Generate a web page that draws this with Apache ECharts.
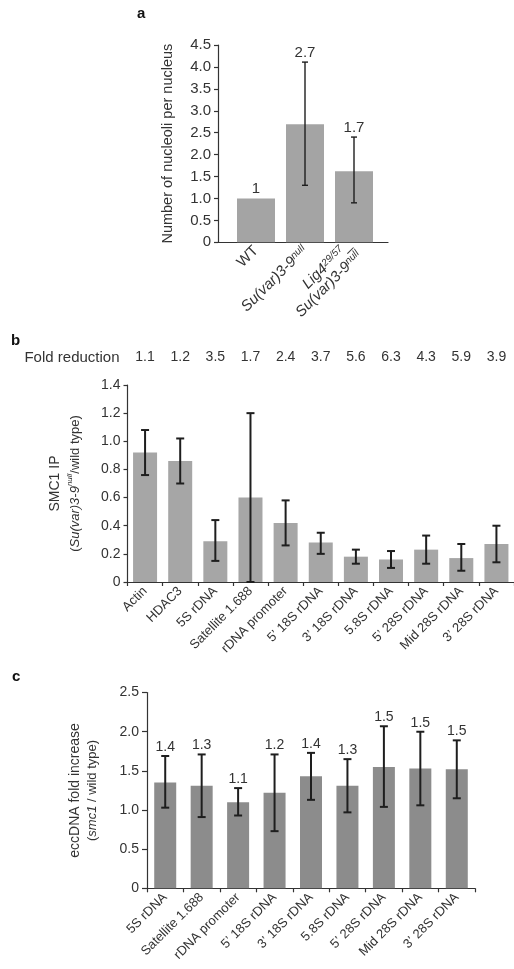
<!DOCTYPE html>
<html><head><meta charset="utf-8">
<script src="https://cdn.jsdelivr.net/npm/echarts@6/dist/echarts.min.js"></script>
<style>html,body{margin:0;padding:0;background:#fff}#c{width:514px;height:969px}</style>
</head><body><div id="c"></div>
<script>
const FONT = '"Liberation Sans", Arial, Helvetica, sans-serif';
const TXT = '#333';

// ---- Panel a ----
const aCategories = ['{n|WT}', '{i|Su(var)3-9}{s|null}', '{i|Lig4}{s|29/57}{n|_}\n{i|Su(var)3-9}{s|null}'];
const aValues = [1.0, 2.69, 1.62];
const aErrLow = [1.0, 1.30, 0.90];
const aErrHigh = [1.0, 4.11, 2.40];
const aLabels = ['1', '2.7', '1.7'];
const aYTicks = [0, 0.5, 1.0, 1.5, 2.0, 2.5, 3.0, 3.5, 4.0, 4.5];

// ---- Panel b ----
const bCategories = ['Actin', 'HDAC3', '5S rDNA', 'Satellite 1.688', 'rDNA promoter', '5’ 18S rDNA', '3’ 18S rDNA', '5.8S rDNA', '5’ 28S rDNA', 'Mid 28S rDNA', '3’ 28S rDNA'];
const bValues = [0.92, 0.86, 0.29, 0.60, 0.42, 0.28, 0.18, 0.16, 0.23, 0.17, 0.27];
const bErrLow = [0.76, 0.70, 0.15, 0.00, 0.26, 0.20, 0.13, 0.10, 0.13, 0.08, 0.14];
const bErrHigh = [1.08, 1.02, 0.44, 1.20, 0.58, 0.35, 0.23, 0.22, 0.33, 0.27, 0.40];
const bFoldReduction = ['1.1', '1.2', '3.5', '1.7', '2.4', '3.7', '5.6', '6.3', '4.3', '5.9', '3.9'];
const bYTicks = [0, 0.2, 0.4, 0.6, 0.8, 1.0, 1.2, 1.4];

// ---- Panel c ----
const cCategories = ['5S rDNA', 'Satellite 1.688', 'rDNA promoter', '5’ 18S rDNA', '3’ 18S rDNA', '5.8S rDNA', '5’ 28S rDNA', 'Mid 28S rDNA', '3’ 28S rDNA'];
const cValues = [1.35, 1.31, 1.10, 1.22, 1.43, 1.31, 1.55, 1.53, 1.52];
const cErrLow = [1.03, 0.91, 0.93, 0.73, 1.13, 0.97, 1.04, 1.06, 1.15];
const cErrHigh = [1.69, 1.71, 1.28, 1.71, 1.73, 1.65, 2.07, 2.00, 1.89];
const cLabels = ['1.4', '1.3', '1.1', '1.2', '1.4', '1.3', '1.5', '1.5', '1.5'];
const cYTicks = [0, 0.5, 1.0, 1.5, 2.0, 2.5];

function fmt(v) { return v === 0 ? '0' : v.toFixed(1); }

function errRenderer(capHalf, lw, labels, fs) {
  return function (params, api) {
    const x = api.value(0), lo = api.value(1), hi = api.value(2), v = api.value(3);
    const pTop = api.coord([x, hi]);
    const pBot = api.coord([x, lo]);
    const ch = [];
    const st = { stroke: '#1e1e1e', lineWidth: lw };
    if (hi !== lo) {
      ch.push({ type: 'line', shape: { x1: pTop[0], y1: pTop[1], x2: pBot[0], y2: pBot[1] }, style: st });
      ch.push({ type: 'line', shape: { x1: pTop[0] - capHalf, y1: pTop[1], x2: pTop[0] + capHalf, y2: pTop[1] }, style: st });
      ch.push({ type: 'line', shape: { x1: pBot[0] - capHalf, y1: pBot[1], x2: pBot[0] + capHalf, y2: pBot[1] }, style: st });
    }
    if (labels) {
      const pl = api.coord([x, Math.max(hi, v)]);
      ch.push({ type: 'text', x: pl[0], y: pl[1] - 2, style: { text: labels[params.dataIndex], font: fs + 'px ' + FONT, fill: TXT, align: 'center', verticalAlign: 'bottom' } });
    }
    return { type: 'group', children: ch };
  };
}

const yAxisBase = (gridIndex, ticks, extra) => Object.assign({
  type: 'value', gridIndex,
  min: ticks[0], max: ticks[ticks.length - 1], interval: ticks[1] - ticks[0],
  splitLine: { show: false },
  axisLine: { show: true, lineStyle: { color: '#333', width: 1.2 } },
  axisTick: { show: true, inside: false, length: 4, lineStyle: { color: '#333', width: 1.2 } },
  axisLabel: { formatter: fmt, color: TXT, fontSize: 14, fontFamily: FONT, margin: 7 },
  nameLocation: 'middle', nameRotate: 90
}, extra);

const richA = {
  n: { fontSize: 15, fontFamily: FONT, color: TXT },
  i: { fontSize: 15, fontFamily: FONT, color: TXT, fontStyle: 'italic' },
  s: { fontSize: 10, fontFamily: FONT, color: TXT, fontStyle: 'italic', verticalAlign: 'top' }
};
const richB = {
  i: { fontSize: 13, fontFamily: FONT, color: TXT, fontStyle: 'italic' },
  s: { fontSize: 8, fontFamily: FONT, color: TXT, fontStyle: 'italic', verticalAlign: 'top' },
  t: { fontSize: 14, fontFamily: FONT, color: TXT, lineHeight: 20 },
  p: { fontSize: 13, fontFamily: FONT, color: TXT, lineHeight: 20 }
};
const richC = {
  i: { fontSize: 13, fontFamily: FONT, color: TXT, fontStyle: 'italic', lineHeight: 17 },
  t: { fontSize: 14, fontFamily: FONT, color: TXT, lineHeight: 17 },
  p: { fontSize: 13, fontFamily: FONT, color: TXT, lineHeight: 17 }
};

const option = {
  animation: false,
  backgroundColor: '#fff',
  textStyle: { fontFamily: FONT },
  title: [
    { text: 'a', left: 137, top: 6, padding: 0, textStyle: { fontSize: 15, fontWeight: 'bold', color: '#111', fontFamily: FONT } },
    { text: 'b', left: 11, top: 333, padding: 0, textStyle: { fontSize: 15, fontWeight: 'bold', color: '#111', fontFamily: FONT } },
    { text: 'c', left: 12, top: 669, padding: 0, textStyle: { fontSize: 15, fontWeight: 'bold', color: '#111', fontFamily: FONT } }
  ],
  grid: [
    { left: 231.5, top: 45, width: 147, height: 197.3 },
    { left: 127.5, top: 385, width: 396, height: 197 },
    { left: 147, top: 692.6, width: 328, height: 195.7 },
    { left: 218, top: 45, width: 170, height: 197.3 }
  ],
  xAxis: [
    { type: 'category', gridIndex: 0, data: aCategories,
      axisLine: { show: false }, axisTick: { show: false },
      axisLabel: { interval: 0, rotate: 45, margin: 6, color: TXT, rich: richA } },
    { type: 'category', gridIndex: 1, data: bCategories,
      axisLine: { show: true, lineStyle: { color: '#333', width: 1.2 } },
      axisTick: { show: true, length: 4, lineStyle: { color: '#333', width: 1.2 } },
      axisLabel: { interval: 0, rotate: 45, margin: 7, color: TXT, fontSize: 13, fontFamily: FONT } },
    { type: 'category', gridIndex: 1, position: 'top', offset: 20, data: bFoldReduction,
      axisLine: { show: false }, axisTick: { show: false },
      axisLabel: { interval: 0, margin: 1, color: TXT, fontSize: 14, fontFamily: FONT },
      name: 'Fold reduction', nameLocation: 'start', nameGap: 8,
      nameTextStyle: { fontSize: 15, color: TXT, fontFamily: FONT, verticalAlign: 'bottom' } },
    { type: 'category', gridIndex: 2, data: cCategories,
      axisLine: { show: true, lineStyle: { color: '#333', width: 1.2 } },
      axisTick: { show: true, length: 4, lineStyle: { color: '#333', width: 1.2 } },
      axisLabel: { interval: 0, rotate: 45, margin: 7, color: TXT, fontSize: 13, fontFamily: FONT } },
    { type: 'value', gridIndex: 3, min: 0, max: 1,
      axisLine: { show: true, lineStyle: { color: '#333', width: 1.2 } },
      axisTick: { show: false }, axisLabel: { show: false }, splitLine: { show: false } }
  ],
  yAxis: [
    yAxisBase(0, aYTicks, { offset: 13.5, name: 'Number of nucleoli per nucleus', nameGap: 43,
      nameTextStyle: { fontSize: 14.5, color: TXT, fontFamily: FONT },
      axisLabel: { formatter: fmt, color: TXT, fontSize: 15, fontFamily: FONT, margin: 7 } }),
    yAxisBase(1, bYTicks, { name: '{t|SMC1 IP}\n{p|(}{i|Su(var)3-9}{s|null}{p|/wild type)}', nameGap: 42,
      nameTextStyle: { rich: richB } }),
    yAxisBase(2, cYTicks, { name: '{t|eccDNA fold increase}\n{p|(}{i|smc1}{p| / wild type)}', nameGap: 46,
      nameTextStyle: { rich: richC }, axisTick: { show: true, length: 5, lineStyle: { color: '#333', width: 1.2 } }, axisLabel: { formatter: fmt, color: TXT, fontSize: 14, fontFamily: FONT, margin: 8 } }),
    { type: 'value', gridIndex: 3, show: false, min: 0, max: 1 }
  ],
  series: [
    { type: 'bar', xAxisIndex: 0, yAxisIndex: 0, data: aValues, barWidth: 38, itemStyle: { color: '#a4a4a4' }, silent: true },
    { type: 'custom', xAxisIndex: 0, yAxisIndex: 0, renderItem: errRenderer(3, 1.4, aLabels, 15),
      data: aValues.map((v, i) => [i, aErrLow[i], aErrHigh[i], v]), encode: { x: 0, y: 2 }, silent: true, z: 5 },
    { type: 'bar', xAxisIndex: 1, yAxisIndex: 1, data: bValues, barWidth: 24, itemStyle: { color: '#a6a6a6' }, silent: true },
    { type: 'custom', xAxisIndex: 1, yAxisIndex: 1, renderItem: errRenderer(4, 2, null, 14),
      data: bValues.map((v, i) => [i, bErrLow[i], bErrHigh[i], v]), encode: { x: 0, y: 2 }, silent: true, z: 5 },
    { type: 'bar', xAxisIndex: 3, yAxisIndex: 2, data: cValues, barWidth: 22, itemStyle: { color: '#8c8c8c' }, silent: true },
    { type: 'custom', xAxisIndex: 3, yAxisIndex: 2, renderItem: errRenderer(4, 2, cLabels, 14),
      data: cValues.map((v, i) => [i, cErrLow[i], cErrHigh[i], v]), encode: { x: 0, y: 2 }, silent: true, z: 5 }
  ]
};

const chart = echarts.init(document.getElementById('c'), null, { renderer: 'canvas' });
chart.setOption(option);
</script>
</body></html>
